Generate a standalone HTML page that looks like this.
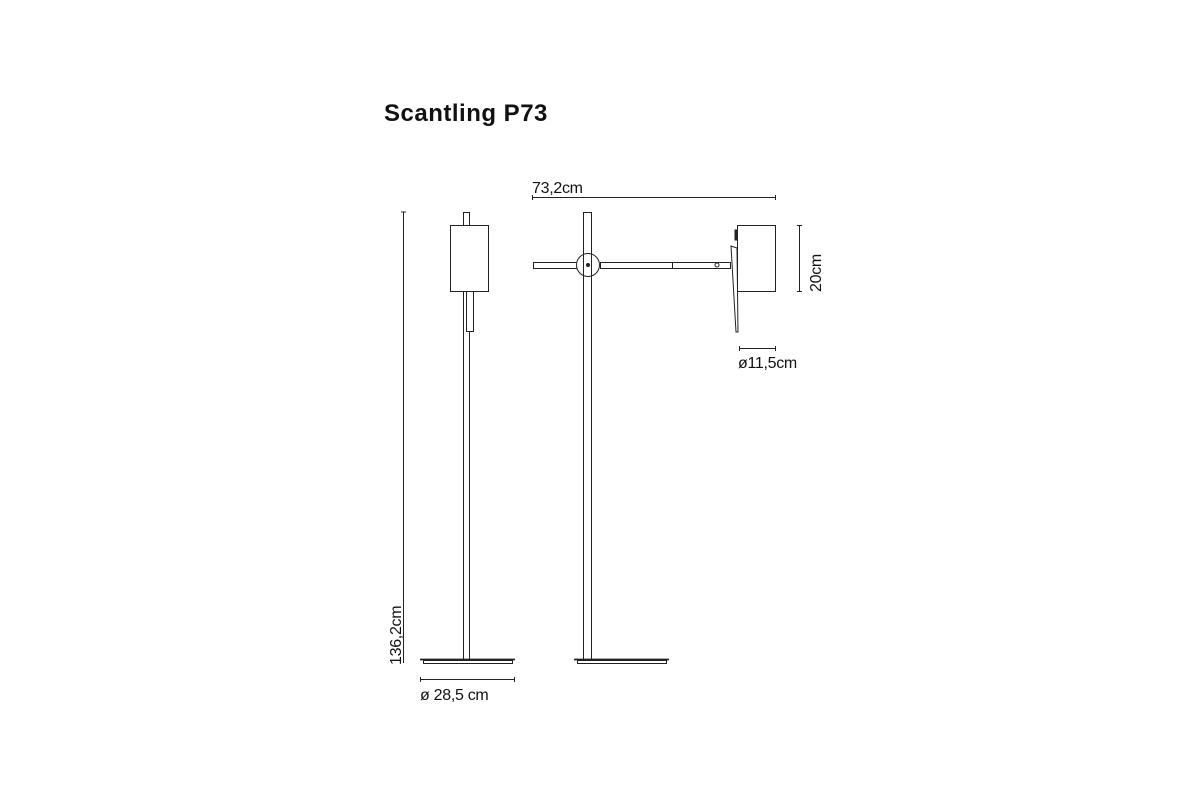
<!DOCTYPE html>
<html><head><style>
body{margin:0;background:#fff;width:1200px;height:800px;overflow:hidden}
svg{display:block}
text{font-family:"Liberation Sans",sans-serif;fill:#111}
</style></head><body>
<svg width="1200" height="800" viewBox="0 0 1200 800">
<text x="384" y="121" font-size="24" font-weight="bold" letter-spacing="0.5">Scantling P73</text>
<g stroke="#222" fill="none" stroke-width="1">
<line x1="403.5" y1="212" x2="403.5" y2="663"/>
<line x1="401" y1="212" x2="406" y2="212" />
<rect x="463.5" y="212.5" width="6" height="13" fill="#fff"/>
<rect x="450.5" y="225.5" width="38" height="66" fill="#fff"/>
<rect x="466.5" y="291.5" width="7" height="40" fill="#fff"/>
<line x1="463.5" y1="292" x2="463.5" y2="659"/>
<line x1="469.5" y1="331" x2="469.5" y2="659"/>
<line x1="420" y1="659.5" x2="515" y2="659.5" stroke-width="1.8"/>
<rect x="423.5" y="660.5" width="89" height="3"/>
<line x1="420" y1="679.5" x2="515" y2="679.5"/>
<line x1="420.5" y1="677" x2="420.5" y2="682"/><line x1="514.5" y1="677" x2="514.5" y2="682"/>
<line x1="583.5" y1="212" x2="583.5" y2="659"/>
<line x1="591.5" y1="212" x2="591.5" y2="659"/>
<line x1="583.5" y1="212.5" x2="591.5" y2="212.5"/>
<rect x="533.5" y="262.5" width="50" height="6" fill="#fff"/>
<rect x="600.5" y="262.5" width="130" height="6" fill="#fff"/>
<line x1="672.5" y1="262" x2="672.5" y2="269"/>
<circle cx="588" cy="265" r="11.5" fill="#fff"/>
<line x1="583.5" y1="254" x2="583.5" y2="276"/>
<line x1="591.5" y1="254" x2="591.5" y2="276"/>
<circle cx="588" cy="265" r="1.5" fill="#222"/>
<circle cx="717" cy="265" r="2"/>
<polygon points="731,246 737,248 738,332 736,332" fill="#fff"/>
<rect x="737.5" y="225.5" width="38" height="66" fill="#fff"/>
<rect x="735" y="230" width="2.5" height="10" fill="#222"/>
<line x1="574" y1="659.5" x2="669" y2="659.5" stroke-width="1.8"/>
<rect x="577.5" y="660.5" width="89" height="3"/>
<line x1="532" y1="197.5" x2="776" y2="197.5"/>
<line x1="532.5" y1="195" x2="532.5" y2="200"/><line x1="775.5" y1="195" x2="775.5" y2="200"/>
<line x1="799.5" y1="225" x2="799.5" y2="292"/>
<line x1="797" y1="225.5" x2="802" y2="225.5"/><line x1="797" y1="291.5" x2="802" y2="291.5"/>
<line x1="739" y1="348.5" x2="776" y2="348.5"/>
<line x1="739.5" y1="346" x2="739.5" y2="351"/><line x1="775.5" y1="346" x2="775.5" y2="351"/>
</g>
<text x="532" y="193" font-size="16" letter-spacing="-0.3">73,2cm</text>
<text x="738" y="368" font-size="16" letter-spacing="-0.3">ø11,5cm</text>
<text x="420" y="700" font-size="16" letter-spacing="-0.3">ø 28,5 cm</text>
<text transform="translate(821,292) rotate(-90)" font-size="16" letter-spacing="-0.3">20cm</text>
<text transform="translate(401,665) rotate(-90)" font-size="16" letter-spacing="-0.3">136,2cm</text>
</svg>
</body></html>
